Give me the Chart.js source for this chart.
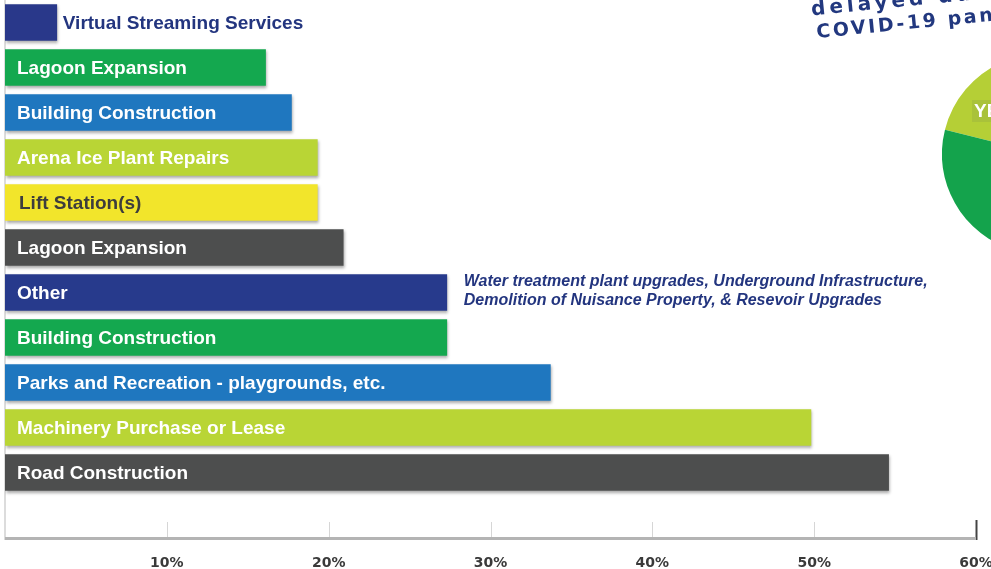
<!DOCTYPE html>
<html>
<head>
<meta charset="utf-8">
<script src="https://cdn.jsdelivr.net/npm/chart.js@4.4.1/dist/chart.umd.min.js"></script>
<style>
  html, body { margin: 0; padding: 0; background: #fff; overflow: hidden; }
  #wrap { position: relative; width: 991px; height: 569px; overflow: hidden; }
  #barChart { position: absolute; left: 0; top: 0; }
  #pieChart { position: absolute; left: 942px; top: 54px; }
</style>
</head>
<body>
<div id="wrap">
  <canvas id="barChart" width="991" height="569"></canvas>
  <canvas id="pieChart" width="200" height="200"></canvas>
</div>
<script>
// ===========================
// DATA
// ===========================
const categories = [
  'Virtual Streaming Services',
  'Lagoon Expansion',
  'Building Construction',
  'Arena Ice Plant Repairs',
  'Lift Station(s)',
  'Lagoon Expansion',
  'Other',
  'Building Construction',
  'Parks and Recreation - playgrounds, etc.',
  'Machinery Purchase or Lease',
  'Road Construction'
];
const percents = [3.2, 16.1, 17.7, 19.3, 19.3, 20.9, 27.3, 27.3, 33.7, 49.8, 54.6];
const barColors = ['#29388a', '#14a84f', '#1f77bf', '#b9d535', '#f2e52b', '#4d4e4e',
                   '#273a8c', '#14a84f', '#1f77bf', '#b9d535', '#4d4e4e'];
const labelColors = ['#23357f', '#fff', '#fff', '#fff', '#3d3d3d', '#fff',
                     '#fff', '#fff', '#fff', '#fff', '#fff'];
const tickLabels = ['', '10%', '20%', '30%', '40%', '50%', '60%'];
const otherNote = [
  'Water treatment plant upgrades, Underground Infrastructure,',
  'Demolition of Nuisance Property, & Resevoir Upgrades'
];
const headline = ['delayed due to the', 'COVID-19 pandemic'];

const pieLabels = ['YES', 'NO'];
const pieValues = [29, 71];
const pieColors = ['#b5cf36', '#14a34c'];

// ===========================
// PLUGINS
// ===========================
const barShadow = {
  id: 'barShadow',
  beforeDatasetsDraw(chart) {
    const ctx = chart.ctx;
    ctx.save();
    ctx.shadowColor = 'rgba(0,0,0,0.35)';
    ctx.shadowBlur = 3;
    ctx.shadowOffsetX = 1;
    ctx.shadowOffsetY = 2;
  },
  afterDatasetsDraw(chart) {
    chart.ctx.restore();
  }
};

const axisDecor = {
  id: 'axisDecor',
  beforeDatasetsDraw(chart) {
    const ctx = chart.ctx;
    const a = chart.chartArea;
    const x = chart.scales.x;
    ctx.save();
    // faint left edge
    ctx.strokeStyle = '#dcdcdc';
    ctx.lineWidth = 2;
    ctx.beginPath();
    ctx.moveTo(a.left, a.top);
    ctx.lineTo(a.left, a.bottom);
    ctx.stroke();
    // short tick marks above axis
    x.ticks.forEach((t, i) => {
      if (i === 0) return;
      const px = Math.round(x.getPixelForValue(t.value)) + 0.5;
      const last = i === x.ticks.length - 1;
      ctx.strokeStyle = last ? '#444' : '#d6d6d6';
      ctx.lineWidth = last ? 2 : 1;
      ctx.beginPath();
      ctx.moveTo(px, a.bottom - (last ? 20 : 18));
      ctx.lineTo(px, a.bottom);
      ctx.stroke();
    });
    // axis line
    ctx.strokeStyle = '#b4b4b4';
    ctx.lineWidth = 3;
    ctx.beginPath();
    ctx.moveTo(a.left, a.bottom - 1.5);
    ctx.lineTo(x.getPixelForValue(60), a.bottom - 1.5);
    ctx.stroke();
    ctx.restore();
  }
};

const barLabels = {
  id: 'barLabels',
  afterDatasetsDraw(chart) {
    const ctx = chart.ctx;
    const meta = chart.getDatasetMeta(0);
    ctx.save();
    ctx.textBaseline = 'middle';
    ctx.textAlign = 'left';
    meta.data.forEach((bar, i) => {
      if (i >= categories.length) return;
      ctx.font = 'bold 19px "Liberation Sans", Arial, sans-serif';
      ctx.fillStyle = labelColors[i];
      let lx = bar.base + 12;
      if (i === 0) lx = bar.x + 6;
      if (i === 4) lx = bar.base + 14;
      ctx.fillText(categories[i], lx, bar.y + 1);
      if (categories[i] === 'Other') {
        ctx.font = 'italic bold 16px "Liberation Sans", Arial, sans-serif';
        ctx.fillStyle = '#23357f';
        ctx.fillText(otherNote[0], bar.x + 17, bar.y - 11);
        ctx.fillText(otherNote[1], bar.x + 17, bar.y + 8);
      }
    });
    ctx.restore();
  }
};

const headlineText = {
  id: 'headlineText',
  afterDraw(chart) {
    const ctx = chart.ctx;
    ctx.save();
    ctx.fillStyle = '#22387f';
    ctx.translate(817, 38);
    ctx.rotate(-5.6 * Math.PI / 180);
    ctx.textBaseline = 'alphabetic';
    ctx.font = 'bold 19px "DejaVu Sans", sans-serif';
    ctx.letterSpacing = '2.6px';
    ctx.fillText(headline[1], 0, 0);
    ctx.font = 'bold 20px "DejaVu Sans", sans-serif';
    ctx.letterSpacing = '4px';
    ctx.fillText(headline[0], -3, -23);
    ctx.restore();
  }
};

// ===========================
// BAR CHART
// ===========================
new Chart(document.getElementById('barChart'), {
  type: 'bar',
  data: {
    labels: categories.concat(['']),
    datasets: [{
      data: percents.concat([null]),
      backgroundColor: barColors,
      borderWidth: 0,
      barThickness: 36
    }]
  },
  options: {
    indexAxis: 'y',
    responsive: false,
    animation: false,
    devicePixelRatio: 1,
    layout: { padding: { left: 5, right: 15, top: 0, bottom: 0 } },
    plugins: {
      legend: { display: false },
      tooltip: { enabled: false }
    },
    scales: {
      y: { display: false },
      x: {
        min: 0,
        max: 60,
        grid: { display: false },
        border: { display: false },
        afterFit(scale) {
          scale.height = 29;
          scale.paddingLeft = 0;
          scale.paddingRight = 0;
        },
        ticks: {
          stepSize: 10,
          padding: 7,
          color: '#3a3a3a',
          font: { family: '"DejaVu Sans", sans-serif', size: 14, weight: 'bold' },
          callback: (v, i) => tickLabels[i]
        }
      }
    }
  },
  plugins: [axisDecor, barShadow, barLabels, headlineText]
});

// ===========================
// PIE (partly off page)
// ===========================
const pieLabel = {
  id: 'pieLabel',
  afterDatasetsDraw(chart) {
    const arc = chart.getDatasetMeta(0).data[0];
    const ctx = chart.ctx;
    ctx.save();
    ctx.font = 'bold 19px "Liberation Sans", Arial, sans-serif';
    ctx.fillStyle = '#a9c23a';
    ctx.fillRect(arc.x - 70, arc.y - 54, 60, 22);
    ctx.fillStyle = '#fff';
    ctx.textBaseline = 'middle';
    ctx.fillText(pieLabels[0], arc.x - 68, arc.y - 42);
    ctx.restore();
  }
};

new Chart(document.getElementById('pieChart'), {
  type: 'pie',
  data: {
    labels: pieLabels,
    datasets: [{
      data: pieValues,
      backgroundColor: pieColors,
      borderWidth: 0
    }]
  },
  options: {
    responsive: false,
    animation: false,
    devicePixelRatio: 1,
    rotation: 284,
    plugins: { legend: { display: false }, tooltip: { enabled: false } }
  },
  plugins: [pieLabel]
});
</script>
</body>
</html>
